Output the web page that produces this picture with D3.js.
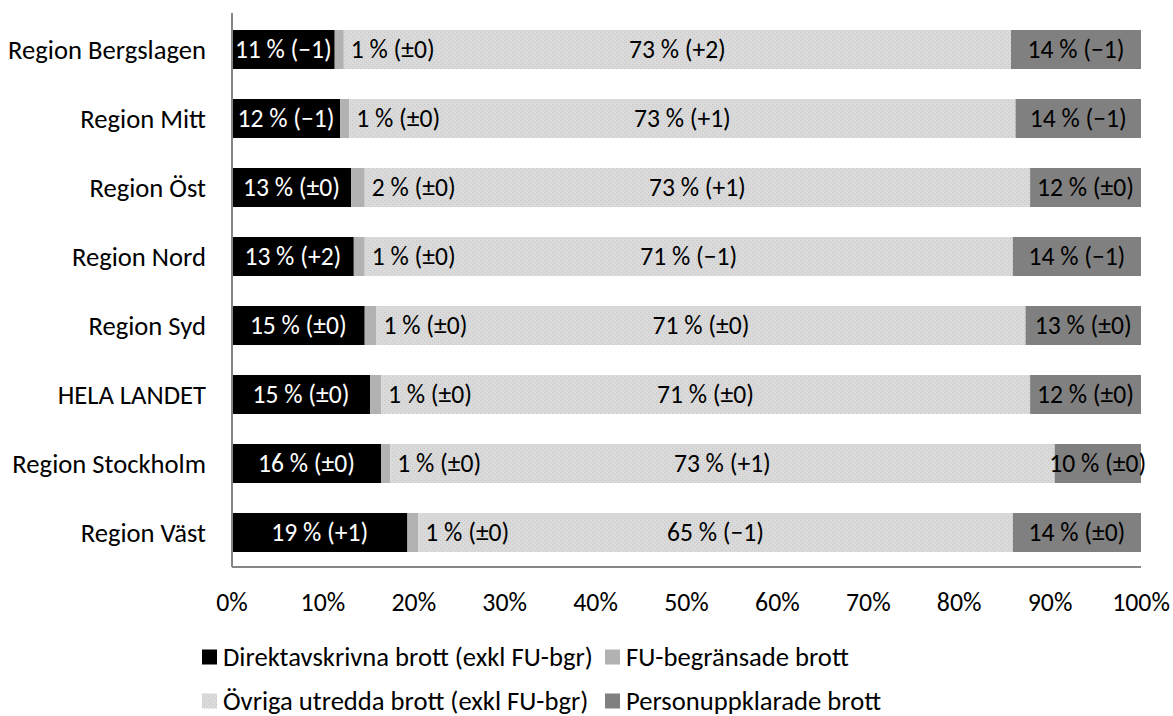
<!DOCTYPE html>
<html>
<head>
<meta charset="utf-8">
<script src="https://cdn.jsdelivr.net/npm/d3@7"></script>
<style>
  html, body { margin: 0; padding: 0; background: #fff; }
  svg { display: block; }
  text { font-family: Carlito, Calibri, Lato, sans-serif; }
</style>
</head>
<body>
<svg id="chart" width="1173" height="716"></svg>
<script>
// ---- data ----
const categories = ["Region Bergslagen", "Region Mitt", "Region Öst", "Region Nord", "Region Syd", "HELA LANDET", "Region Stockholm", "Region Väst"];
const direkt = [11.3, 11.9, 13.1, 13.4, 14.6, 15.2, 16.4, 19.3];
const fu     = [1.0, 1.0, 1.5, 1.2, 1.3, 1.2, 1.0, 1.2];
const ovriga = [73.4, 73.3, 73.2, 71.3, 71.4, 71.4, 73.1, 65.4];
const person = [14.3, 13.8, 12.2, 14.1, 12.7, 12.2, 9.5, 14.1];
const direktChange = ["−1", "−1", "±0", "+2", "±0", "±0", "±0", "+1"];
const fuChange     = ["±0", "±0", "±0", "±0", "±0", "±0", "±0", "±0"];
const ovrigaChange = ["+2", "+1", "+1", "−1", "±0", "±0", "+1", "−1"];
const personChange = ["−1", "−1", "±0", "−1", "±0", "±0", "±0", "±0"];
const seriesNames = ["Direktavskrivna brott (exkl FU-bgr)", "FU-begränsade brott", "Övriga utredda brott (exkl FU-bgr)", "Personuppklarade brott"];
const tickValues = [0, 10, 20, 30, 40, 50, 60, 70, 80, 90, 100];

// ---- setup ----
const svg = d3.select("#chart");
const defs = svg.append("defs");
const pat = defs.append("pattern").attr("id", "dots").attr("width", 4).attr("height", 4)
  .attr("patternUnits", "userSpaceOnUse");
pat.append("rect").attr("width", 4).attr("height", 4).attr("fill", "#dadada");
pat.append("rect").attr("x", 0).attr("y", 0).attr("width", 1).attr("height", 1).attr("fill", "#c6c6c6");
pat.append("rect").attr("x", 2).attr("y", 2).attr("width", 1).attr("height", 1).attr("fill", "#c6c6c6");

const fills = ["#000000", "#b2b2b2", "url(#dots)", "#808080"];
const labelColors = ["#ffffff", "#000000", "#000000", "#000000"];

// font sizes fitted to the reference text widths
function fit(str, target) {
  const probe = svg.append("text").attr("font-size", 26).text(str);
  const w = probe.node().getComputedTextLength();
  probe.remove();
  return 26 * target / w;
}
const fsCat = fit("Region Bergslagen", 198);
const fsBar = fit("11 % (−1)", 97);
const fsTick = (fit("100%", 56) + fsCat) / 2;
const fsLeg = fit("Direktavskrivna brott (exkl FU-bgr)", 370);

const margin = { left: 232, right: 1141, top: 15, bottom: 567 };
const x = d3.scaleLinear().domain([0, 100]).range([margin.left, margin.right]);
const y = d3.scaleBand().domain(categories).range([margin.top, margin.bottom])
  .paddingInner(0.435).paddingOuter(0.2175);

const rows = categories.map((c, i) => {
  const vals = [direkt[i], fu[i], ovriga[i], person[i]];
  const ch = [direktChange[i], fuChange[i], ovrigaChange[i], personChange[i]];
  let acc = 0;
  return vals.map((v, k) => {
    const seg = { cat: c, k, x0: acc, x1: acc + v, v, ch: ch[k] };
    acc += v;
    return seg;
  });
});

const g = svg.append("g");
rows.forEach(segs => {
  g.selectAll(null).data(segs).enter().append("rect")
    .attr("x", d => x(d.x0))
    .attr("y", d => y(d.cat))
    .attr("width", d => x(d.x1) - x(d.x0))
    .attr("height", y.bandwidth())
    .attr("fill", d => fills[d.k]);
});

// labels
rows.forEach(segs => {
  g.selectAll(null).data(segs).enter().append("text")
    .attr("x", d => d.k === 1 ? x(d.x1) + 7 : (x(d.x0) + x(d.x1)) / 2)
    .attr("y", d => y(d.cat) + y.bandwidth() / 2)
    .attr("dy", "0.35em")
    .attr("text-anchor", d => d.k === 1 ? "start" : "middle")
    .attr("font-size", fsBar)
    .attr("fill", d => labelColors[d.k])
    .text(d => `${Math.round(d.v)} % (${d.ch})`);
});

// axes lines
svg.append("line").attr("x1", x(0)).attr("x2", x(0)).attr("y1", margin.top - 2).attr("y2", margin.bottom)
  .attr("stroke", "#868686").attr("stroke-width", 2);
svg.append("line").attr("x1", x(0)).attr("x2", x(100)).attr("y1", margin.bottom).attr("y2", margin.bottom)
  .attr("stroke", "#868686").attr("stroke-width", 2);

// category labels
svg.append("g").selectAll("text").data(categories).enter().append("text")
  .attr("x", 206)
  .attr("y", d => y(d) + y.bandwidth() / 2)
  .attr("dy", "0.35em")
  .attr("text-anchor", "end")
  .attr("font-size", fsCat)
  .attr("fill", "#000")
  .text(d => d);

// x tick labels
svg.append("g").selectAll("text").data(tickValues).enter().append("text")
  .attr("x", d => x(d))
  .attr("y", 602)
  .attr("dy", "0.35em")
  .attr("text-anchor", "middle")
  .attr("font-size", fsTick)
  .attr("fill", "#000")
  .text(d => d + "%");

// legend
const legPos = [[202, 657], [605, 657], [202, 701], [605, 701]];
const leg = svg.append("g");
seriesNames.forEach((name, k) => {
  const [lx, ly] = legPos[k];
  leg.append("rect").attr("x", lx).attr("y", ly - 7.5).attr("width", 15).attr("height", 15).attr("fill", fills[k]);
  leg.append("text").attr("x", lx + 21).attr("y", ly).attr("dy", "0.35em")
    .attr("font-size", fsLeg).attr("fill", "#000").text(name);
});
</script>
</body>
</html>
